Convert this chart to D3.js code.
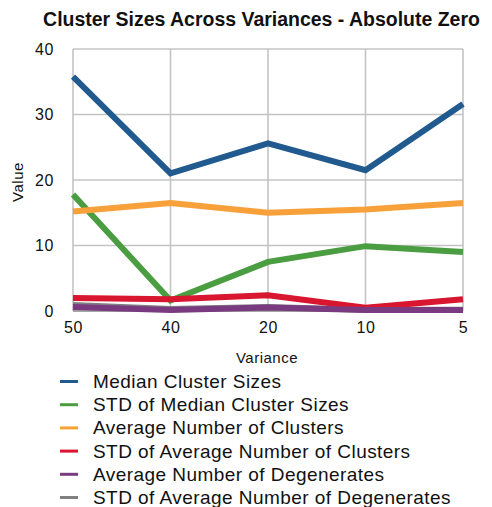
<!DOCTYPE html>
<html>
<head>
<meta charset="utf-8">
<script src="https://cdn.jsdelivr.net/npm/d3@7"></script>
<style>
  html, body { margin: 0; padding: 0; background: #fff; }
  svg { display: block; font-family: "Liberation Sans", Arial, Helvetica, sans-serif; }
</style>
</head>
<body>
<svg id="chart" width="492" height="507"></svg>
<script>
// Variance levels along the x axis
const categories = ["50", "40", "20", "10", "5"];

// Series values per variance level
const medianClusterSizes   = [35.8, 21.0, 25.6, 21.5, 31.6];
const stdMedianClusterSizes = [17.8, 1.6, 7.5, 9.9, 9.0];
const avgNumClusters       = [15.2, 16.5, 15.0, 15.5, 16.5];
const stdAvgNumClusters    = [2.0, 1.8, 2.4, 0.5, 1.8];
const avgNumDegenerates    = [0.6, 0.15, 0.55, 0.15, 0.15];
const stdAvgNumDegenerates = [0.9, 0.3, 0.6, 0.2, 0.2];

const seriesNames = [
  "Median Cluster Sizes",
  "STD of Median Cluster Sizes",
  "Average Number of Clusters",
  "STD of Average Number of Clusters",
  "Average Number of Degenerates",
  "STD of Average Number of Degenerates"
];
const seriesColors = ["#215a8f", "#4a9d41", "#f8a03a", "#d8162f", "#7a3a80", "#808080"];
const seriesValues = [
  medianClusterSizes, stdMedianClusterSizes, avgNumClusters,
  stdAvgNumClusters, avgNumDegenerates, stdAvgNumDegenerates
];

const yTicks = [0, 10, 20, 30, 40];

const svg = d3.select("#chart");
const plot = { left: 73, right: 463, top: 49, bottom: 311 };

const x = d3.scalePoint().domain(categories).range([plot.left, plot.right]);
const y = d3.scaleLinear().domain([0, 40]).range([plot.bottom, plot.top]);

// Title, sized so it spans the width set aside for it
const titleWidth = 437;
const title = svg.append("text")
  .attr("x", 261.5).attr("y", 26)
  .attr("text-anchor", "middle")
  .attr("font-size", 18).attr("font-weight", "bold")
  .attr("fill", "#111")
  .text("Cluster Sizes Across Variances - Absolute Zero");
const natural = title.node().getComputedTextLength();
if (natural > 0) title.attr("font-size", 18 * titleWidth / natural);

// Gridlines
const grid = svg.append("g").attr("stroke", "#c4c4c4").attr("stroke-width", 1.6);
grid.selectAll("line.h").data(yTicks.filter(d => d > 0)).join("line")
  .attr("x1", plot.left).attr("x2", plot.right)
  .attr("y1", d => y(d)).attr("y2", d => y(d));
grid.selectAll("line.v").data(categories).join("line")
  .attr("x1", d => x(d)).attr("x2", d => x(d))
  .attr("y1", plot.top).attr("y2", plot.bottom);

// Axes
const yAxis = svg.append("g")
  .attr("transform", `translate(${plot.left},0)`)
  .call(d3.axisLeft(y).tickValues(yTicks).tickSize(0).tickPadding(19));
yAxis.select(".domain").remove();
yAxis.selectAll("text").attr("font-size", 16).attr("fill", "#111")
  .attr("letter-spacing", 0.6)
  .attr("font-family", "Liberation Sans, Arial, sans-serif");

const xAxis = svg.append("g")
  .attr("transform", `translate(0,${plot.bottom})`)
  .call(d3.axisBottom(x).tickSize(0).tickPadding(11));
xAxis.select(".domain").attr("stroke", "#888").attr("stroke-width", 1.6)
  .attr("d", `M${plot.left},0H${plot.right}`);
xAxis.selectAll("text").attr("font-size", 16).attr("fill", "#111")
  .attr("letter-spacing", 0.6)
  .attr("font-family", "Liberation Sans, Arial, sans-serif");

// Axis titles
svg.append("text")
  .attr("transform", "translate(23,182) rotate(-90)")
  .attr("text-anchor", "middle")
  .attr("font-size", 15).attr("letter-spacing", 0.5).attr("fill", "#111")
  .text("Value");
svg.append("text")
  .attr("x", 267).attr("y", 363)
  .attr("text-anchor", "middle")
  .attr("font-size", 15).attr("letter-spacing", 0.5).attr("fill", "#111")
  .text("Variance");

// Series lines (grey STD-degenerates line first so purple sits on top)
const line = d3.line().x((d, i) => x(categories[i])).y(d => y(d));
const drawOrder = [5, 0, 1, 2, 3, 4];
svg.append("g").selectAll("path").data(drawOrder).join("path")
  .attr("d", i => line(seriesValues[i]))
  .attr("fill", "none")
  .attr("stroke", i => seriesColors[i])
  .attr("stroke-width", 6)
  .attr("stroke-linejoin", "miter");

// Legend
const legend = svg.append("g");
const rows = legend.selectAll("g").data(seriesNames).join("g")
  .attr("transform", (d, i) => `translate(0,${381.5 + i * 23.2})`);
rows.append("line")
  .attr("x1", 60).attr("x2", 78).attr("y1", 0).attr("y2", 0)
  .attr("stroke", (d, i) => seriesColors[i]).attr("stroke-width", 3);
rows.append("text")
  .attr("x", 93).attr("y", 6.5)
  .attr("font-size", 19).attr("letter-spacing", 0.45).attr("fill", "#111")
  .text(d => d);
</script>
</body>
</html>
